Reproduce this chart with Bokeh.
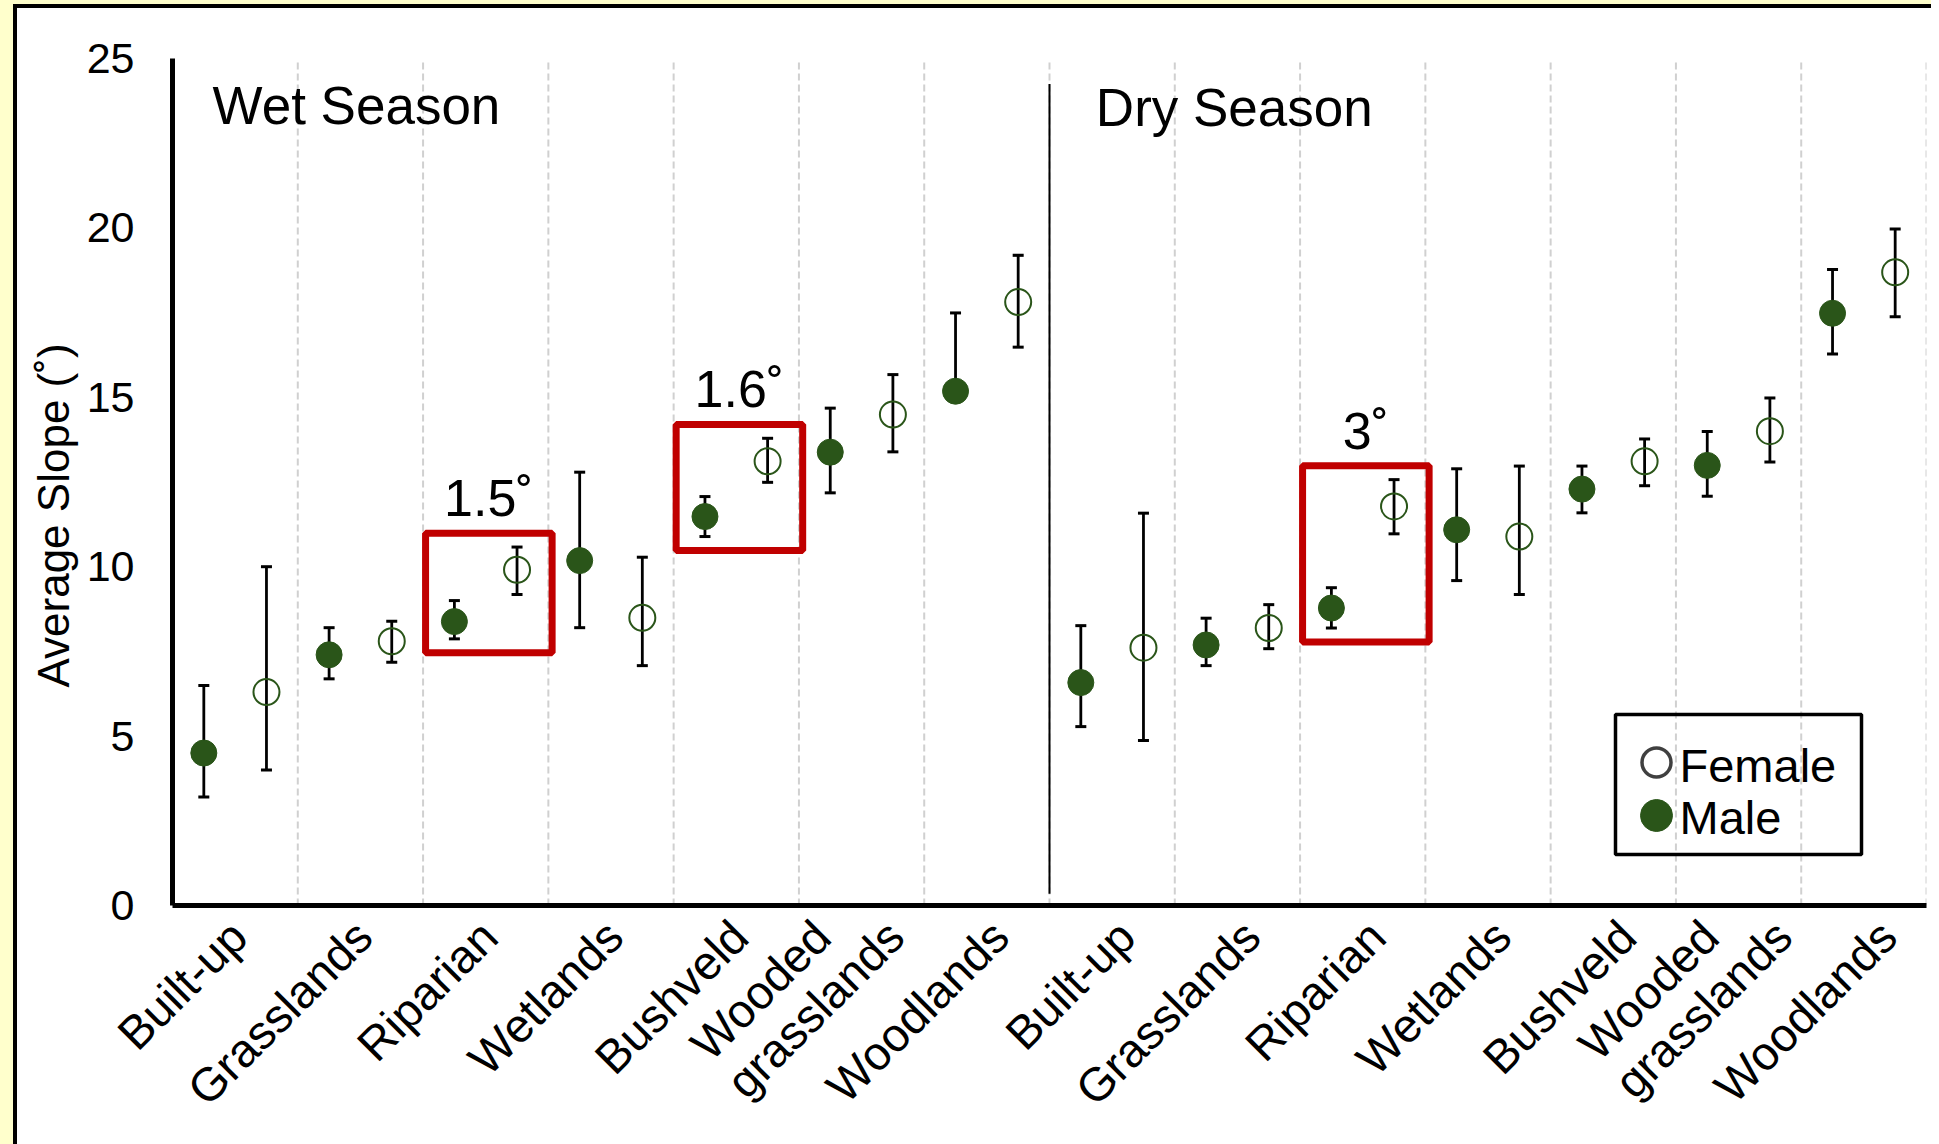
import math
from bokeh.plotting import figure
from bokeh.models import (Range1d, FixedTicker, ColumnDataSource, Whisker, TeeHead,
                          Title, CustomJSTickFormatter)
from bokeh.embed import file_html
from bokeh.resources import INLINE
from bokeh.core.properties import value

# ---------------- data ----------------
habitats = ["Built-up", "Grasslands", "Riparian", "Wetlands", "Bushveld",
            "Wooded grasslands", "Woodlands"]
seasons = ["Wet Season", "Dry Season"]

male_wet = [4.50, 7.40, 8.38, 10.18, 11.48, 13.38, 15.18]
male_wet_lo = [3.20, 6.69, 7.87, 8.20, 10.89, 12.18, 15.18]
male_wet_hi = [6.49, 8.20, 9.00, 12.79, 12.07, 14.68, 17.49]
female_wet = [6.30, 7.80, 9.91, 8.49, 13.11, 14.49, 17.81]
female_wet_lo = [4.00, 7.18, 9.18, 7.08, 12.49, 13.39, 16.48]
female_wet_hi = [10.00, 8.39, 10.58, 10.28, 13.79, 15.67, 19.19]

male_dry = [6.58, 7.69, 8.78, 11.09, 12.29, 12.99, 17.48]
male_dry_lo = [5.28, 7.08, 8.19, 9.59, 11.59, 12.08, 16.28]
male_dry_hi = [8.26, 8.48, 9.38, 12.89, 12.97, 13.99, 18.77]
female_dry = [7.61, 8.19, 11.78, 10.89, 13.11, 14.00, 18.69]
female_dry_lo = [4.87, 7.58, 10.97, 9.18, 12.39, 13.09, 17.38]
female_dry_hi = [11.58, 8.88, 12.57, 12.97, 13.77, 14.98, 19.97]

# highlighted (season index, habitat index, label)
highlights = [(0, 2, "1.5˚"), (0, 4, "1.6˚"), (1, 2, "3˚")]

y_ticks = [0, 5, 10, 15, 20, 25]
y_title = "Average Slope (˚)"
legend_labels = ["Female", "Male"]

# ---------------- geometry helpers (page pixels -> data) ----------------
NCAT = len(habitats) * len(seasons)
FX0, FX1 = 172, 1926       # frame left/right on page
FY0, FY1 = 58, 905         # frame top/bottom on page
PXX = (FX1 - FX0) / NCAT
PXY = (FY1 - FY0) / 25.0
BASE_FIX = 0.34            # svg text baseline compensation (em)
CANVAS_X, CANVAS_Y = 17, 8


def X(px):
    return (px - FX0) / PXX


def Y(py):
    return (FY1 - py) / PXY


GREEN = "#2A5519"
RED = "#C00000"
FONT = "Liberation Sans"
PAPER = "#FFFFCC"

shadow = ", ".join([
    "-4px 0 0 0 #000000", "0 -4px 0 0 #000000", "-4px -4px 0 0 #000000",
    f"-17px 0 0 0 {PAPER}", f"0 -8px 0 0 {PAPER}", f"-17px -8px 0 0 {PAPER}",
])

W, H = 1914, 1136
p = figure(width=W, height=H, x_range=Range1d(0, NCAT), y_range=Range1d(0, 25),
           output_backend="svg", toolbar_location=None,
           min_border_left=FX0 - CANVAS_X, min_border_right=CANVAS_X + W - FX1,
           min_border_top=FY0 - CANVAS_Y, min_border_bottom=CANVAS_Y + H - FY1,
           margin=(CANVAS_Y, 0, 0, CANVAS_X),
           background_fill_color="white", border_fill_color="white",
           styles={"box-shadow": shadow})
p.outline_line_color = None
p.xgrid.visible = False
p.ygrid.visible = False

# y axis
p.yaxis.ticker = FixedTicker(ticks=y_ticks)
p.yaxis.major_tick_out = 0
p.yaxis.major_tick_in = 0
p.yaxis.minor_tick_line_color = None
p.yaxis.major_tick_line_color = None
p.yaxis.axis_line_width = 5
p.yaxis.axis_line_color = "black"
p.yaxis.major_label_text_font = FONT
p.yaxis.major_label_text_font_size = "43px"
p.yaxis.major_label_text_color = "black"
p.yaxis.major_label_standoff = 38

# x axis: one label per category line, rotated 45 degrees
LABEL_DX = -15
tick_pos, tick_txt = [], []
for c in range(NCAT):
    s, h = divmod(c, len(habitats))
    shift = LABEL_DX + (0 if s == 0 else 11)
    if h == len(habitats) - 1:
        shift += 10
    centre = c + 0.5
    name = habitats[h]
    if " " in name:
        a, b = name.split(" ")
        tick_pos += [centre + (-24.5 + shift) / PXX, centre + (49 + shift) / PXX]
        tick_txt += [a, b]
    else:
        tick_pos.append(centre + (18.4 + shift) / PXX)
        tick_txt.append(name)

p.xaxis.ticker = FixedTicker(ticks=tick_pos)
p.xaxis.formatter = CustomJSTickFormatter(args=dict(labels=tick_txt),
                                          code="return labels[index];")
p.xaxis.major_label_orientation = math.pi / 4
p.xaxis.major_tick_out = 0
p.xaxis.major_tick_in = 0
p.xaxis.major_tick_line_color = None
p.xaxis.minor_tick_line_color = None
p.xaxis.axis_line_width = 5
p.xaxis.axis_line_color = "black"
p.xaxis.major_label_text_font = FONT
p.xaxis.major_label_text_font_size = "47px"
p.xaxis.major_label_text_color = "black"
p.xaxis.major_label_standoff = 23

# y axis title (placed below centre like the reference)
p.add_layout(Title(text=y_title, align="left", offset=FY1 - 687, text_font=FONT,
                   text_font_size="44px", text_font_style="normal",
                   text_color="black", standoff=11), "left")

# dashed category separators
sep = list(range(1, NCAT + 1))
p.segment(x0=sep, y0=[0] * len(sep), x1=sep, y1=[25] * len(sep),
          line_color="#D0D0D0", line_width=2, line_dash="7 4")

# season divider
p.segment(x0=[7], y0=[0.35], x1=[7], y1=[24.25], line_color="black", line_width=2)

# ---------------- points ----------------
n = len(habitats)
male = male_wet + male_dry
male_lo = male_wet_lo + male_dry_lo
male_hi = male_wet_hi + male_dry_hi
female = female_wet + female_dry
female_lo = female_wet_lo + female_dry_lo
female_hi = female_wet_hi + female_dry_hi
cats = list(range(NCAT))

src_m = ColumnDataSource(dict(x=[c + 0.25 for c in cats], y=male, lo=male_lo, hi=male_hi))
src_f = ColumnDataSource(dict(x=[c + 0.75 for c in cats], y=female, lo=female_lo, hi=female_hi))

for src in (src_m, src_f):
    p.add_layout(Whisker(source=src, base="x", lower="lo", upper="hi", dimension="height",
                         line_color="black", line_width=2.8,
                         upper_head=TeeHead(size=11, line_width=3, line_color="black"),
                         lower_head=TeeHead(size=11, line_width=3, line_color="black")))

p.scatter("x", "y", source=src_f, size=26, fill_color=None, line_color=GREEN, line_width=2)
p.scatter("x", "y", source=src_m, size=26, fill_color=GREEN, line_color=GREEN, line_width=1)

# ---------------- highlight boxes ----------------
pad = 0.41
bl, br, bb, bt, bx, by, btxt = [], [], [], [], [], [], []
for s, h, txt in highlights:
    c = s * n + h
    bottom = min(male_lo[c], female_lo[c]) - pad
    top = max(male_hi[c], female_hi[c]) + pad
    bl.append(c + 0.02)
    br.append(c + 1.03)
    bb.append(bottom)
    bt.append(top)
    bx.append(c + 0.525)
    by.append(top + (17.5 + BASE_FIX * 52) / PXY)
    btxt.append(txt)
p.quad(left=bl, right=br, bottom=bb, top=bt, fill_color=None, line_color=RED, line_width=7)
p.text(x=bx, y=by, text=btxt, text_align="center", text_baseline="alphabetic",
       text_font=value(FONT), text_font_size="52px", text_color="black")

# season titles
p.text(x=[0.32, 7.37], y=[Y(123 - BASE_FIX * 53), Y(125 - BASE_FIX * 53)], text=seasons,
       text_align="left", text_baseline="alphabetic", text_font=value(FONT),
       text_font_size="53px", text_color="black")

# ---------------- legend (drawn) ----------------
p.quad(left=[X(1615)], right=[X(1861)], top=[Y(714)], bottom=[Y(854)],
       fill_color=None, line_color="black", line_width=3.5)
p.scatter(x=[X(1656)], y=[Y(762)], size=29, fill_color=None, line_color="#404040", line_width=3.5)
p.scatter(x=[X(1656)], y=[Y(815)], size=32, fill_color=GREEN, line_color=GREEN)
p.text(x=[X(1679), X(1679)], y=[Y(781 - BASE_FIX * 47), Y(833 - BASE_FIX * 47)],
       text=legend_labels, text_align="left", text_baseline="alphabetic",
       text_font=value(FONT), text_font_size="47px", text_color="black")

open("out.html", "w").write(file_html(p, INLINE))
